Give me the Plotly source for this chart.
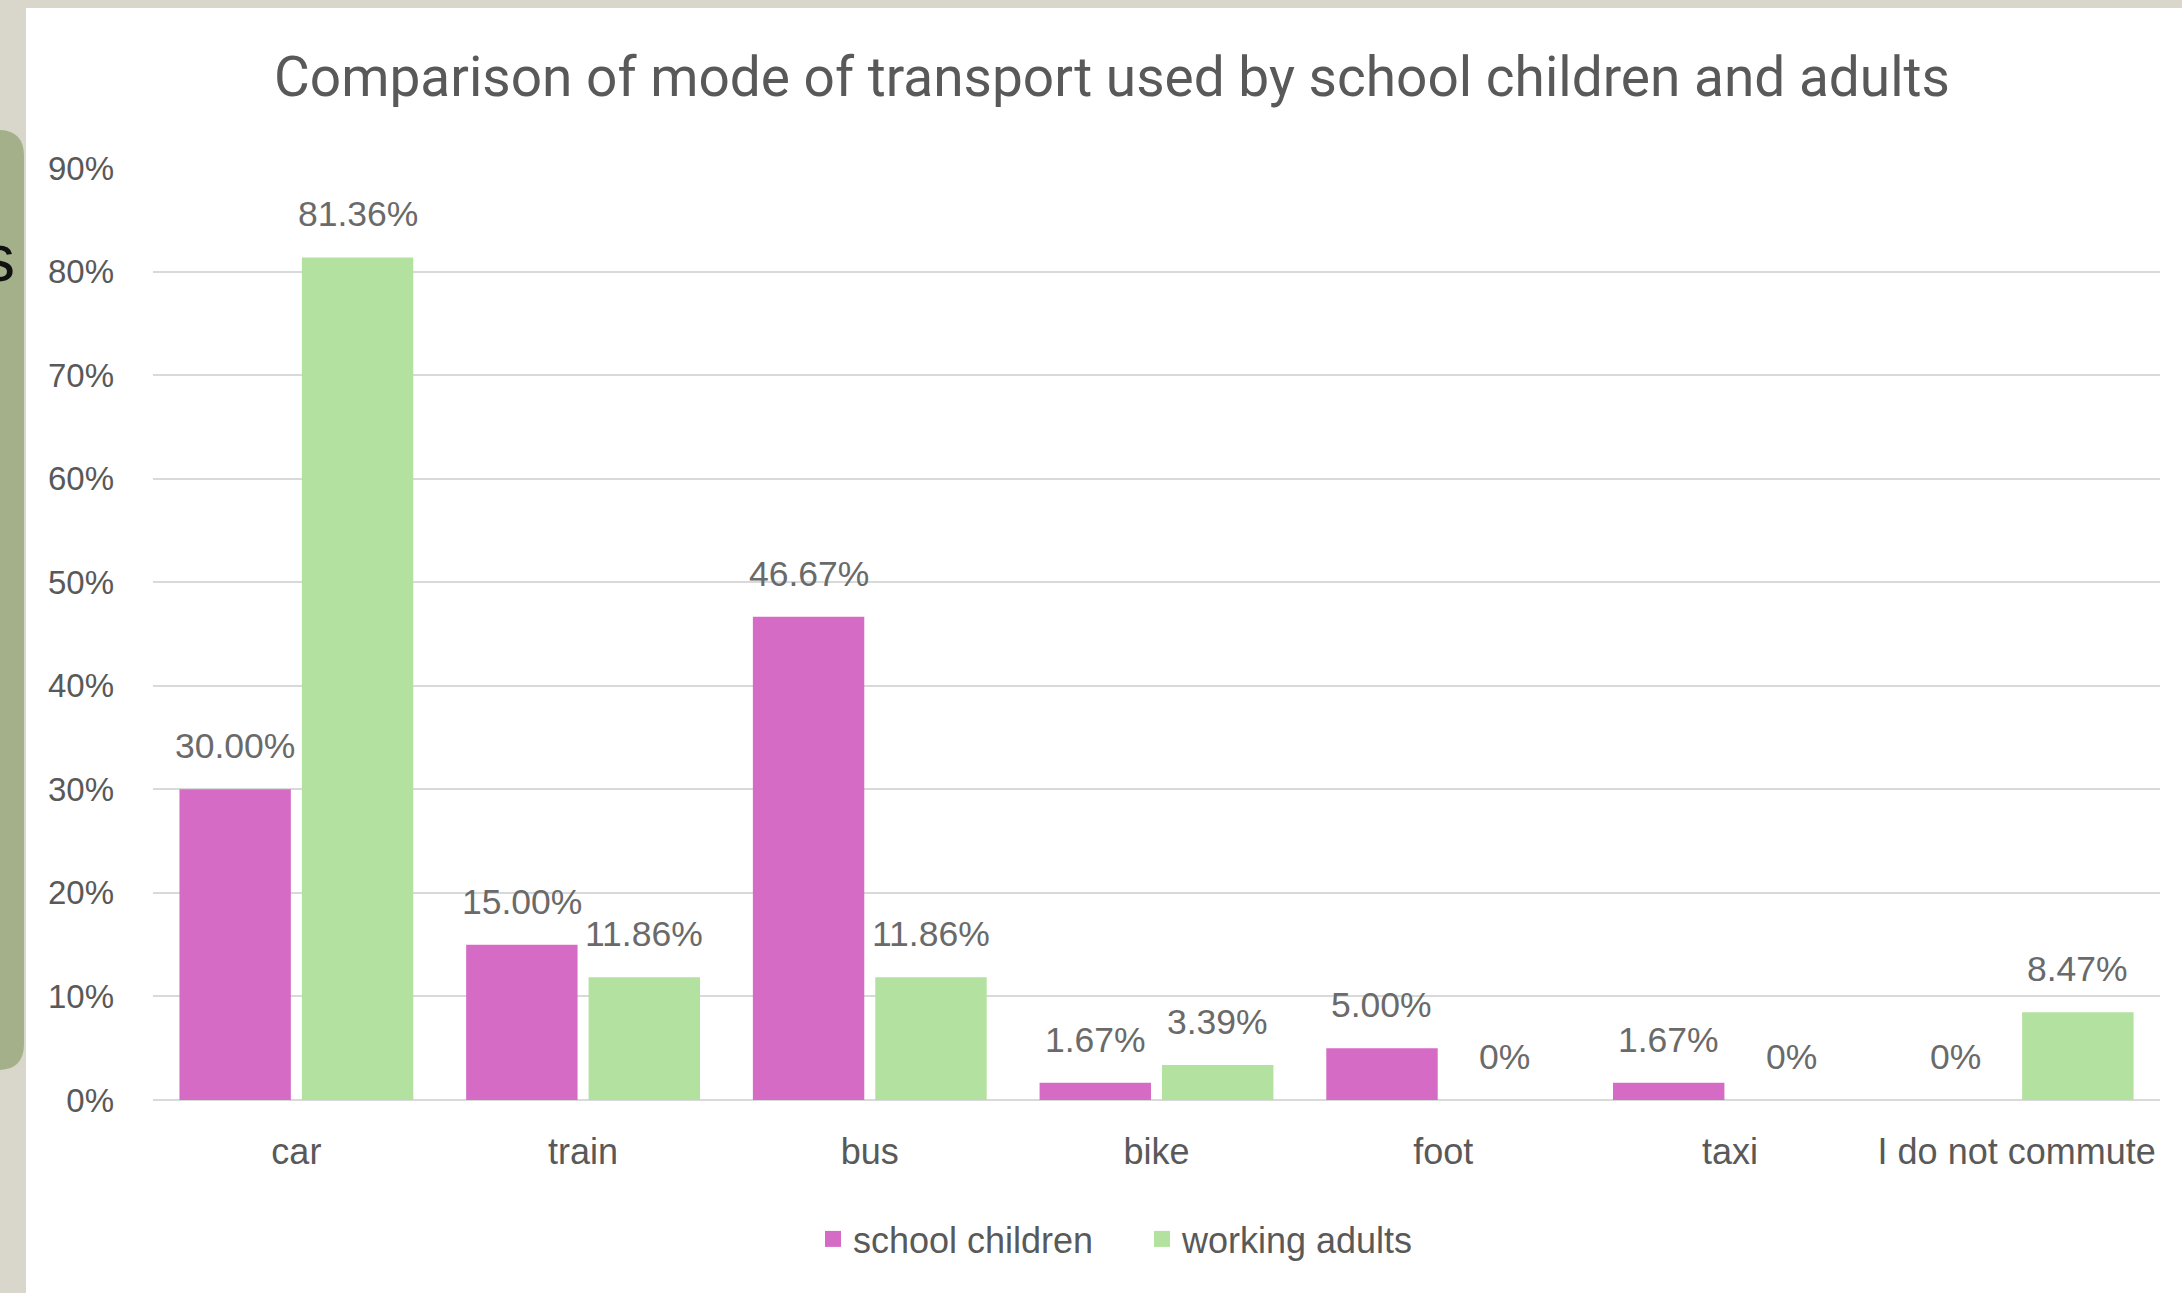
import plotly.graph_objects as go

# ---- data ----
categories = ["car", "train", "bus", "bike", "foot", "taxi", "I do not commute"]
school_children = [30.00, 15.00, 46.67, 1.67, 5.00, 1.67, 0]
working_adults = [81.36, 11.86, 11.86, 3.39, 0, 0, 8.47]
child_labels = ["30.00%", "15.00%", "46.67%", "1.67%", "5.00%", "1.67%", "0%"]
adult_labels = ["81.36%", "11.86%", "11.86%", "3.39%", "0%", "0%", "8.47%"]
y_ticks = [0, 10, 20, 30, 40, 50, 60, 70, 80, 90]
y_tick_labels = ["0%", "10%", "20%", "30%", "40%", "50%", "60%", "70%", "80%", "90%"]
series_names = ["school children", "working adults"]
title_text = "Comparison of mode of transport used by school children and adults"

# ---- style ----
W, H = 2182, 1293
ML, MR, MT, MB = 153, 22, 168, 193
PINK = "#d66bc6"
GREEN = "#b3e19f"
GRID = "#d9d9d9"
TXT = "#595959"
LBL = "#6a6a6a"
BARGAP = 0.146
GROUPGAP = 0.09
FONT = "Liberation Sans, Arial"

plot_w = W - ML - MR
plot_h = H - MT - MB
cat_w = plot_w / len(categories)
slot = cat_w * (1 - BARGAP) / 2
offset = slot / 2


def px_x(px):
    return (px - ML) / plot_w


def px_y(py):
    return (H - MB - py) / plot_h


fig = go.Figure()
fig.add_trace(go.Bar(x=categories, y=school_children, name=series_names[0],
                     marker=dict(color=PINK, line=dict(width=0)), showlegend=False))
fig.add_trace(go.Bar(x=categories, y=working_adults, name=series_names[1],
                     marker=dict(color=GREEN, line=dict(width=0)), showlegend=False))
# legend entries
for nm, col in zip(series_names, [PINK, GREEN]):
    fig.add_trace(go.Scatter(x=[None], y=[None], mode="markers", name=nm,
                             marker=dict(symbol="square", size=20, color=col)))

annotations = []
for cat, v, t in zip(categories, school_children, child_labels):
    annotations.append(dict(x=cat, y=v, xref="x", yref="y", text=t, showarrow=False,
                            xshift=-offset, yshift=21, yanchor="bottom",
                            font=dict(family=FONT, size=35.5, color=LBL)))
for cat, v, t in zip(categories, working_adults, adult_labels):
    annotations.append(dict(x=cat, y=v, xref="x", yref="y", text=t, showarrow=False,
                            xshift=offset, yshift=21, yanchor="bottom",
                            font=dict(family=FONT, size=35.5, color=LBL)))

# cut-off letter at left edge of the screenshot
annotations.append(dict(x=px_x(-2), y=px_y(258), xref="paper", yref="paper", text="s",
                        showarrow=False, xanchor="center", yanchor="middle",
                        font=dict(family=FONT, size=66, color="#111111")))

shapes = [
    # white card
    dict(type="rect", xref="paper", yref="paper", x0=px_x(26), x1=px_x(W + 20),
         y0=px_y(H + 20), y1=px_y(8), fillcolor="white", line=dict(width=0), layer="below"),
]
# green rounded tab at the left edge
gx0, gx1 = px_x(-40), px_x(24)
gy_top, gy_bot = px_y(130), px_y(1070)
rx = 26 / plot_w
ry = 26 / plot_h
path = (f"M {gx0},{gy_bot} L {gx1 - rx},{gy_bot} Q {gx1},{gy_bot} {gx1},{gy_bot + ry} "
        f"L {gx1},{gy_top - ry} Q {gx1},{gy_top} {gx1 - rx},{gy_top} L {gx0},{gy_top} Z")
shapes.append(dict(type="path", xref="paper", yref="paper", path=path,
                   fillcolor="#a3b089", line=dict(width=0), layer="below"))

fig.update_layout(
    width=W, height=H,
    margin=dict(l=ML, r=MR, t=MT, b=MB, pad=0),
    paper_bgcolor="#d9d7cc",
    plot_bgcolor="rgba(0,0,0,0)",
    barmode="group", bargap=BARGAP, bargroupgap=GROUPGAP,
    title=dict(text=title_text, x=1112 / W, xanchor="center", y=1 - 77 / H, yanchor="middle",
               font=dict(family="Roboto, Liberation Sans, Arial", size=55, color=TXT)),
    xaxis=dict(type="category", showgrid=False, showline=False, zeroline=False,
               tickfont=dict(family=FONT, size=36, color=TXT),
               ticks="", ticklabelstandoff=27, fixedrange=True),
    yaxis=dict(range=[0, 90], tickmode="array", tickvals=y_ticks, ticktext=y_tick_labels,
               showgrid=True, gridcolor=GRID, gridwidth=2, zeroline=True,
               zerolinecolor=GRID, zerolinewidth=2,
               showline=False, ticks="", ticklabelstandoff=38,
               tickfont=dict(family=FONT, size=33, color=TXT)),
    legend=dict(orientation="h", x=px_x(813), xanchor="left", y=px_y(1239), yanchor="middle",
                font=dict(family=FONT, size=36, color=TXT),
                bgcolor="rgba(0,0,0,0)", itemwidth=30,
                entrywidth=284, entrywidthmode="pixels"),
    annotations=annotations,
    shapes=shapes,
    showlegend=True,
)

fig.write_html("out.html")
